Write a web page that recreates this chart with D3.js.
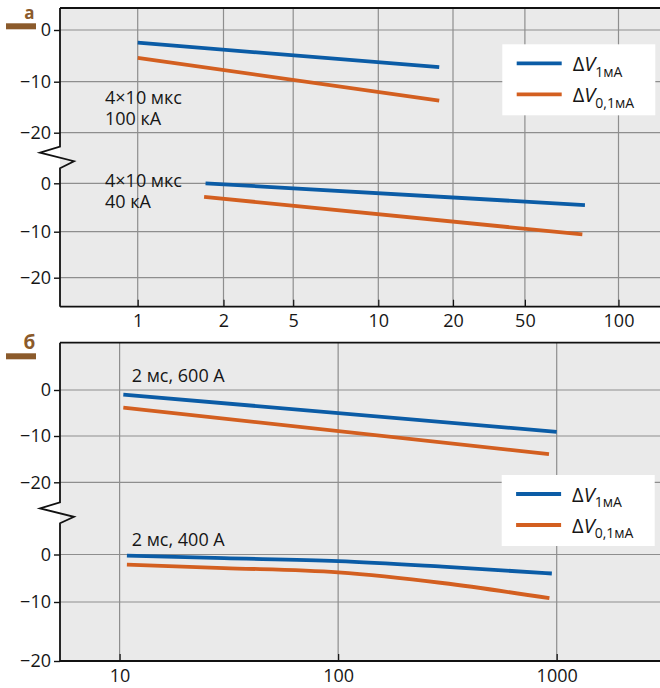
<!DOCTYPE html>
<html>
<head>
<meta charset="utf-8">
<script src="https://cdn.jsdelivr.net/npm/d3@7"></script>
<style>
  body { margin: 0; background: #fff; }
  text { font-family: "Open Sans", sans-serif; fill: #161616; }
</style>
</head>
<body>
<div id="chart"></div>
<script>
// ---- data ----
const yTicks = [0, -10, -20];

// panel а (4x10 мкс impulses), x in number of impulses
const xTicksA = [1, 2, 5, 10, 20, 50, 100];
const a100x = [1.0, 17.6];
const a100_1mA = [-2.46, -7.2];
const a100_01mA = [-5.4, -13.7];
const a40x_1mA = [1.73, 78];
const a40_1mA = [0, -4.5];
const a40x_01mA = [1.71, 76.5];
const a40_01mA = [-2.8, -10.6];

// panel б (2 мс impulses)
const xTicksB = [10, 100, 1000];
const b600x_1mA = [10.4, 1000];
const b600_1mA = [-1.0, -9.1];
const b600x_01mA = [10.4, 922];
const b600_01mA = [-3.85, -13.9];
const b400x_1mA = [10.8, 30, 100, 300, 950];
const b400_1mA = [-0.25, -0.78, -1.4, -2.57, -4.0];
const b400x_01mA = [10.8, 30, 100, 300, 926];
const b400_01mA = [-2.15, -2.85, -3.75, -6.0, -9.2];

const legendSubs = ["1мА", "0,1мА"];

// ---- setup ----
const width = 660, height = 688;
const left = 60, right = 660;
const blue = "#0b5ca6", orange = "#d35f20", brown = "#8b5a2b";

const svg = d3.select("#chart")
  .append("svg")
  .attr("width", width)
  .attr("height", height);

// the original axis is not a clean log axis, so the log scale is pinned at each tick
const xA = d3.scaleLog().domain(xTicksA).range([137.7, 223.5, 293.2, 378.3, 453, 524.9, 618.5]);
const xB = d3.scaleLog().domain([10, 1000]).range([119.6, 556.7]);

const panels = [
  {
    label: "а", labelSize: 17, top: 8, bottom: 306.7, brk: [146.7, 168.3], barY: 23.3,
    x: xA, xTicks: xTicksA, legend: [502.3, 44.3], labelPad: 8,
    y: [
      d3.scaleLinear().domain(yTicks).range([30, 81.7, 132.7]),
      d3.scaleLinear().domain(yTicks).range([183.3, 231.7, 277.7])
    ],
    series: [
      { sub: 0, xs: a100x, vs: a100_1mA, color: blue },
      { sub: 0, xs: a100x, vs: a100_01mA, color: orange },
      { sub: 1, xs: a40x_1mA, vs: a40_1mA, color: blue },
      { sub: 1, xs: a40x_01mA, vs: a40_01mA, color: orange }
    ],
    notes: [
      { x: 105, y: 104, lines: ["4×10 мкс", "100 кА"] },
      { x: 105, y: 187, lines: ["4×10 мкс", "40 кА"] }
    ]
  },
  {
    label: "б", labelSize: 19, top: 342.7, bottom: 661, brk: [502.3, 523.3], barY: 353.3,
    x: xB, xTicks: xTicksB, legend: [501.7, 475], labelPad: 8.5,
    y: [
      d3.scaleLinear().domain(yTicks).range([390, 436, 482.3]),
      d3.scaleLinear().domain(yTicks).range([554.5, 602, 661])
    ],
    series: [
      { sub: 0, xs: b600x_1mA, vs: b600_1mA, color: blue },
      { sub: 0, xs: b600x_01mA, vs: b600_01mA, color: orange },
      { sub: 1, xs: b400x_1mA, vs: b400_1mA, color: blue },
      { sub: 1, xs: b400x_01mA, vs: b400_01mA, color: orange }
    ],
    notes: [
      { x: 131.7, y: 381.7, lines: ["2 мс, 600 А"] },
      { x: 131.7, y: 546, lines: ["2 мс, 400 А"] }
    ]
  }
];

const fmtY = d => d < 0 ? "\u2212" + Math.abs(d) : String(d);

panels.forEach(function(p) {
  const g = svg.append("g");

  // background
  g.append("rect")
    .attr("x", left).attr("y", p.top)
    .attr("width", right - left).attr("height", p.bottom - p.top)
    .attr("fill", "#eaeaea");

  // vertical grid
  g.selectAll(".vgrid")
    .data(p.xTicks)
    .enter()
    .append("line")
    .attr("x1", d => p.x(d)).attr("x2", d => p.x(d))
    .attr("y1", p.top).attr("y2", p.bottom)
    .attr("stroke", "#8e8e8e")
    .attr("stroke-width", 1.2);

  // horizontal grid, one set for each half of the broken y axis
  p.y.forEach(function(ys) {
    g.selectAll(null)
      .data(yTicks)
      .enter()
      .append("line")
      .attr("x1", left).attr("x2", right)
      .attr("y1", d => ys(d)).attr("y2", d => ys(d))
      .attr("stroke", "#8e8e8e")
      .attr("stroke-width", 1.2);
  });

  // data lines
  p.series.forEach(function(s) {
    const ys = p.y[s.sub];
    const line = d3.line()
      .x(d => p.x(d[0]))
      .y(d => ys(d[1]))
      .curve(d3.curveMonotoneX);
    g.append("path")
      .datum(d3.zip(s.xs, s.vs))
      .attr("d", line)
      .attr("fill", "none")
      .attr("stroke", s.color)
      .attr("stroke-width", 3.8);
  });

  // annotations
  p.notes.forEach(function(n) {
    const t = g.append("text")
      .attr("x", n.x).attr("y", n.y)
      .style("font-size", "18px");
    n.lines.forEach(function(l, i) {
      t.append("tspan")
        .attr("x", n.x)
        .attr("dy", i === 0 ? 0 : 20.5)
        .text(l);
    });
  });

  // legend
  const [lx, ly] = p.legend;
  const leg = g.append("g").attr("transform", `translate(${lx},${ly})`);
  leg.append("rect")
    .attr("width", 153).attr("height", 71)
    .attr("fill", "#fff");
  [blue, orange].forEach(function(c, i) {
    const yy = 19 + i * 31;
    leg.append("line")
      .attr("x1", 14.4).attr("x2", 59.4)
      .attr("y1", yy).attr("y2", yy)
      .attr("stroke", c)
      .attr("stroke-width", 3.8);
    const t = leg.append("text")
      .attr("x", 70.4).attr("y", yy + 7.7)
      .style("font-size", "20px");
    t.append("tspan").text("Δ");
    t.append("tspan").style("font-style", "italic").text("V");
    t.append("tspan")
      .attr("dy", 5.7)
      .style("font-size", "14px")
      .text(legendSubs[i]);
  });

  // frame: top border, bottom axis, broken left axis
  g.append("line")
    .attr("x1", left).attr("x2", right)
    .attr("y1", p.top).attr("y2", p.top)
    .attr("stroke", "#111").attr("stroke-width", 1.8);

  const b0 = p.brk[0], b1 = p.brk[1];
  g.append("path")
    .attr("d", d3.line()([
      [left, p.top], [left, b0], [left - 20, b0 + 6],
      [left + 14, b0 + 14.5], [left, b1], [left, p.bottom]
    ]))
    .attr("fill", "none")
    .attr("stroke", "#111")
    .attr("stroke-width", 1.8);

  const xAxis = d3.axisBottom(p.x)
    .tickValues(p.xTicks)
    .tickFormat(d3.format("d"))
    .tickSize(-7)
    .tickSizeOuter(0)
    .tickPadding(p.labelPad);

  const xg = g.append("g")
    .attr("transform", `translate(0,${p.bottom})`)
    .call(xAxis);
  xg.select(".domain").remove();
  xg.selectAll(".tick line").attr("stroke", "#111").attr("stroke-width", 1.2);
  xg.selectAll(".tick text").style("font-size", "18px").attr("fill", "#161616");

  g.append("line")
    .attr("x1", left).attr("x2", right)
    .attr("y1", p.bottom).attr("y2", p.bottom)
    .attr("stroke", "#111").attr("stroke-width", 1.8);

  p.y.forEach(function(ys) {
    const yAxis = d3.axisLeft(ys)
      .tickValues(yTicks)
      .tickFormat(fmtY)
      .tickSize(6)
      .tickPadding(3);
    const yg = g.append("g")
      .attr("transform", `translate(${left},0)`)
      .call(yAxis);
    yg.select(".domain").remove();
    yg.selectAll(".tick line").attr("stroke", "#111").attr("stroke-width", 1.4);
    yg.selectAll(".tick text").style("font-size", "18px").attr("fill", "#161616");
  });

  // panel letter with bar
  g.append("rect")
    .attr("x", 6).attr("y", p.barY)
    .attr("width", 30).attr("height", 6)
    .attr("fill", brown);
  g.append("text")
    .attr("x", 29.5).attr("y", p.barY - 4)
    .attr("text-anchor", "middle")
    .style("font-size", p.labelSize + "px")
    .style("font-weight", "bold")
    .style("fill", brown)
    .text(p.label);
});
</script>
</body>
</html>
